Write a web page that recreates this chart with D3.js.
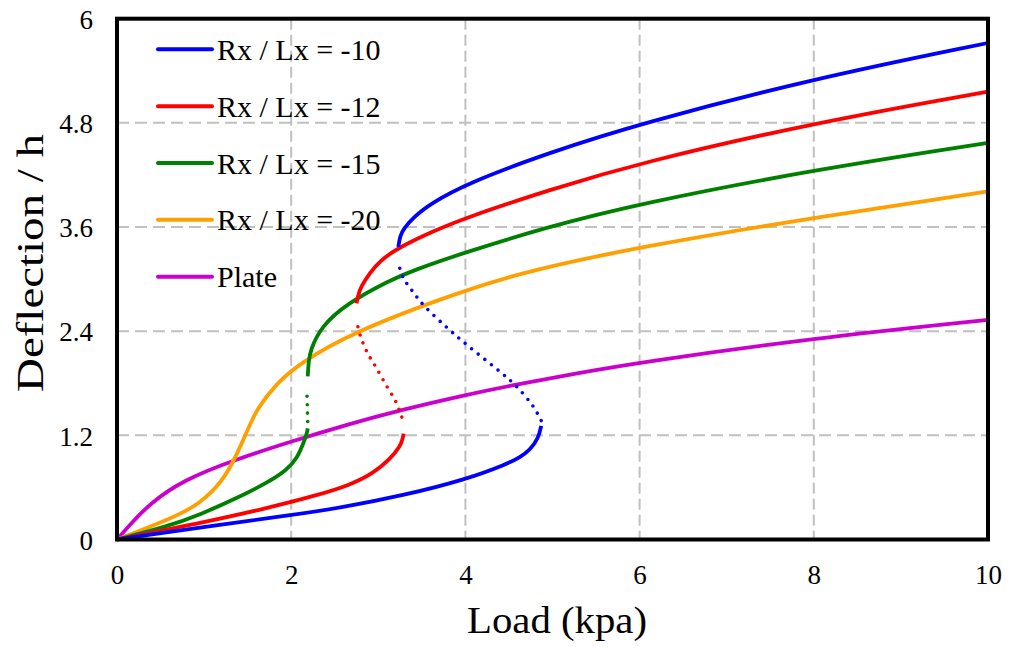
<!DOCTYPE html>
<html>
<head>
<meta charset="utf-8">
<script src="https://cdn.jsdelivr.net/npm/d3@7"></script>
<style>
  html, body { margin: 0; padding: 0; background: #fff; }
  svg { display: block; }
  text { font-family: "Liberation Serif", "Times New Roman", serif; fill: #000; }
</style>
</head>
<body>
<svg id="chart" width="1010" height="647"></svg>
<script>
// ---------- data ----------
const xTicks = [0, 2, 4, 6, 8, 10];
const yTicks = [0, 1.2, 2.4, 3.6, 4.8, 6];
const yTickLabels = ["0", "1.2", "2.4", "3.6", "4.8", "6"];
const legendNames = ["Rx / Lx = -10", "Rx / Lx = -12", "Rx / Lx = -15", "Rx / Lx = -20", "Plate"];
const seriesColors = ["#0000FF", "#FF0000", "#008000", "#FFA000", "#CC00CC"];

// Rx/Lx = -10  [load, deflection/h]
const r10Lower = [[0,0],[0.96,0.14],[2.0,0.28],[2.57,0.365],[3.3,0.51],[4.0,0.69],[4.48,0.87],[4.63,0.95],[4.74,1.03],[4.84,1.17],[4.87,1.31]];
const r10Unstable = [[4.87,1.37],[4.78,1.53],[4.59,1.76],[4.40,1.93],[4.02,2.24],[3.79,2.44],[3.52,2.70],[3.40,2.85],[3.29,3.01],[3.23,3.18]];
const r10Upper = [[3.23,3.37],[3.25,3.50],[3.29,3.58],[3.40,3.71],[3.60,3.87],[4.01,4.10],[4.94,4.45],[6.0,4.79],[8.0,5.31],[10.0,5.72]];

// Rx/Lx = -12
const r12Lower = [[0,0],[0.96,0.19],[1.72,0.36],[2.30,0.51],[2.68,0.63],[2.94,0.76],[3.14,0.93],[3.25,1.07],[3.28,1.16],[3.29,1.22]];
const r12Unstable = [[3.27,1.41],[3.20,1.59],[3.10,1.76],[2.97,1.99],[2.87,2.16],[2.79,2.36],[2.75,2.52]];
const r12Upper = [[2.75,2.72],[2.77,2.82],[2.80,2.91],[2.90,3.07],[3.02,3.21],[3.21,3.35],[3.60,3.54],[4.01,3.71],[4.94,4.02],[6.0,4.34],[8.0,4.80],[10.0,5.16]];

// Rx/Lx = -15
const r15Lower = [[0,0],[0.58,0.15],[0.96,0.29],[1.34,0.46],[1.72,0.65],[1.95,0.80],[2.07,0.94],[2.14,1.11],[2.18,1.22],[2.19,1.28]];
const r15Unstable = [[2.19,1.36],[2.185,1.54],[2.18,1.72]];
const r15Upper = [[2.19,1.88],[2.20,2.05],[2.22,2.18],[2.34,2.45],[2.64,2.72],[3.14,2.99],[3.40,3.10],[3.97,3.30],[4.94,3.60],[6.0,3.87],[8.0,4.26],[10.0,4.57]];

// Rx/Lx = -20
const r20Curve = [[0,0],[0.57,0.22],[0.95,0.40],[1.26,0.72],[1.45,1.15],[1.53,1.33],[1.60,1.49],[1.83,1.80],[2.10,2.03],[2.68,2.38],[3.98,2.87],[4.74,3.10],[6.0,3.37],[8.0,3.71],[10.0,4.01]];

// Plate
const plateCurve = [[0,0],[0.19,0.215],[0.38,0.415],[0.76,0.685],[1.355,0.92],[2.0,1.13],[2.68,1.335],[3.25,1.49],[4.0,1.665],[4.55,1.78],[5.31,1.92],[6.0,2.04],[8.0,2.32],[10.0,2.53]];

// ---------- drawing ----------
const FONT = "Liberation Serif";
const svg = d3.select("#chart");
const pLeft = 117, pRight = 988, pTop = 18.7, pBottom = 539.5;

const x = d3.scaleLinear().domain([0, 10]).range([pLeft, pRight]);
const y = d3.scaleLinear().domain([0, 6]).range([pBottom, pTop]);

// grid
const grid = svg.append("g");
grid.selectAll("line.vx").data(xTicks.filter(d => d > 0 && d < 10)).enter().append("line")
  .attr("x1", d => x(d)).attr("x2", d => x(d)).attr("y1", pTop).attr("y2", pBottom)
  .attr("stroke", "#C0C0C0").attr("stroke-width", 2).attr("stroke-dasharray", "11 5");
grid.selectAll("line.hy").data(yTicks.filter(d => d > 0 && d < 6)).enter().append("line")
  .attr("x1", pLeft).attr("x2", pRight).attr("y1", d => y(d)).attr("y2", d => y(d))
  .attr("stroke", "#C0C0C0").attr("stroke-width", 2).attr("stroke-dasharray", "12 6");

// axes (tick labels through d3 axes)
const xAxis = d3.axisBottom(x).tickValues(xTicks).tickSize(0).tickPadding(0).tickFormat(d3.format("d"));
const gx = svg.append("g").attr("transform", `translate(0,${pBottom})`).call(xAxis)
  .attr("font-family", FONT).attr("font-size", 27);
gx.select(".domain").remove();
gx.selectAll("text").attr("y", 44).attr("dy", null).attr("font-family", FONT).attr("font-size", 27);

const yAxis = d3.axisLeft(y).tickValues(yTicks).tickSize(0).tickPadding(0)
  .tickFormat((d, i) => yTickLabels[i]);
const gy = svg.append("g").attr("transform", `translate(${pLeft},0)`).call(yAxis)
  .attr("font-family", FONT).attr("font-size", 27);
gy.select(".domain").remove();
gy.selectAll("text").attr("x", -24).attr("dy", "0.36em").attr("font-family", FONT).attr("font-size", 27);

// series
const lineSmooth = d3.line().x(d => x(d[0])).y(d => y(d[1])).curve(d3.curveBasis);
const lineCR = d3.line().x(d => x(d[0])).y(d => y(d[1])).curve(d3.curveCatmullRom.alpha(0.5));
const plotG = svg.append("g");

function solid(data, color) {
  plotG.append("path").datum(data).attr("d", lineSmooth).attr("fill", "none")
    .attr("stroke", color).attr("stroke-width", 3.8).attr("stroke-linecap", "butt")
    .attr("stroke-linejoin", "round");
}
function dotted(data, color) {
  plotG.append("path").datum(data).attr("d", lineCR).attr("fill", "none")
    .attr("stroke", color).attr("stroke-width", 3.6).attr("stroke-linecap", "round")
    .attr("stroke-dasharray", "0 8.4");
}

solid(plateCurve, seriesColors[4]);
solid(r20Curve, seriesColors[3]);
solid(r15Lower, seriesColors[2]); dotted(r15Unstable, seriesColors[2]); solid(r15Upper, seriesColors[2]);
solid(r12Lower, seriesColors[1]); dotted(r12Unstable, seriesColors[1]); solid(r12Upper, seriesColors[1]);
solid(r10Lower, seriesColors[0]); dotted(r10Unstable, seriesColors[0]); solid(r10Upper, seriesColors[0]);

// border
svg.append("rect").attr("x", pLeft).attr("y", pTop).attr("width", pRight - pLeft).attr("height", pBottom - pTop)
  .attr("fill", "none").attr("stroke", "#000").attr("stroke-width", 4);

// legend
const legY0 = 49.3, legStep = 56.85;
const leg = svg.append("g");
legendNames.forEach((name, i) => {
  const yy = legY0 + i * legStep;
  leg.append("line").attr("x1", 158).attr("x2", 212).attr("y1", yy).attr("y2", yy)
    .attr("stroke", seriesColors[i]).attr("stroke-width", 4).attr("stroke-linecap", "round");
  leg.append("text").attr("x", 217).attr("y", yy + 10.5).attr("font-family", FONT)
    .attr("font-size", 30).text(name);
});

// axis titles
svg.append("text").attr("x", 557).attr("y", 633).attr("text-anchor", "middle")
  .attr("font-family", FONT).attr("font-size", 38)
  .attr("textLength", 180).attr("lengthAdjust", "spacingAndGlyphs")
  .text("Load (kpa)");
svg.append("text").attr("transform", "translate(43,263) rotate(-90)").attr("text-anchor", "middle")
  .attr("font-family", FONT).attr("font-size", 38)
  .attr("textLength", 258).attr("lengthAdjust", "spacingAndGlyphs")
  .text("Deflection / h");
</script>
</body>
</html>
